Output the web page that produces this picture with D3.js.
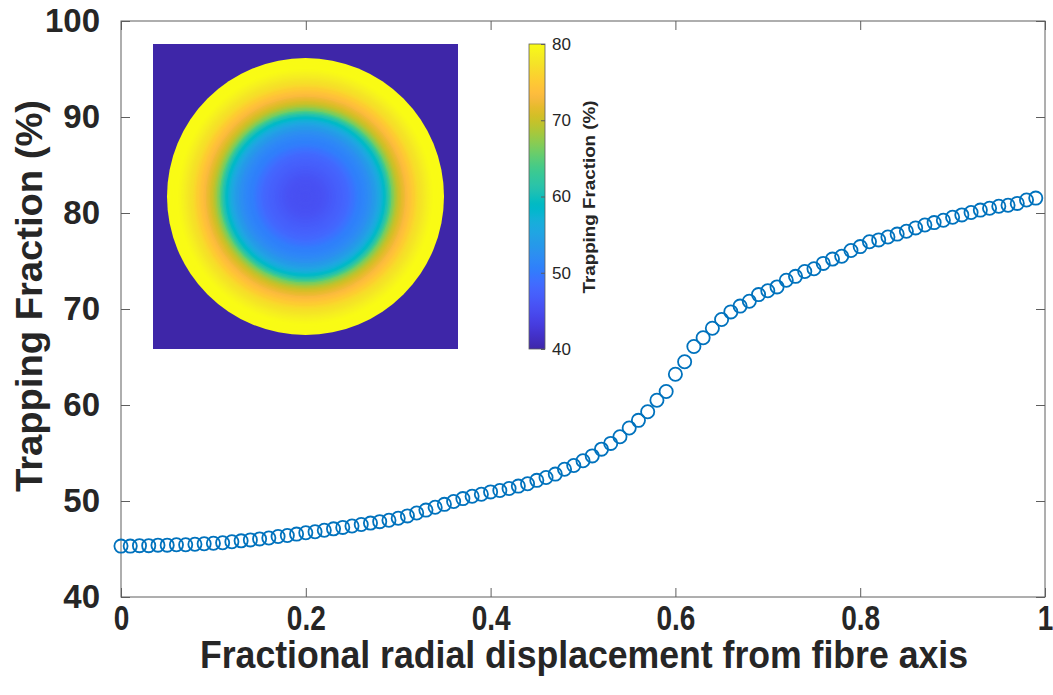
<!DOCTYPE html>
<html>
<head>
<meta charset="utf-8">
<script src="https://cdn.jsdelivr.net/npm/d3@7"></script>
<style>
  html, body { margin: 0; padding: 0; background: #fff; }
  svg { display: block; font-family: "Liberation Sans", Arial, sans-serif; }
</style>
</head>
<body>
<svg id="chart" width="1053" height="695"></svg>
<script>
// Fractional radial displacement of the source from the fibre axis
const displacement = [
  0.00, 0.01, 0.02, 0.03, 0.04, 0.05, 0.06, 0.07, 0.08, 0.09,
  0.10, 0.11, 0.12, 0.13, 0.14, 0.15, 0.16, 0.17, 0.18, 0.19,
  0.20, 0.21, 0.22, 0.23, 0.24, 0.25, 0.26, 0.27, 0.28, 0.29,
  0.30, 0.31, 0.32, 0.33, 0.34, 0.35, 0.36, 0.37, 0.38, 0.39,
  0.40, 0.41, 0.42, 0.43, 0.44, 0.45, 0.46, 0.47, 0.48, 0.49,
  0.50, 0.51, 0.52, 0.53, 0.54, 0.55, 0.56, 0.57, 0.58, 0.59,
  0.60, 0.61, 0.62, 0.63, 0.64, 0.65, 0.66, 0.67, 0.68, 0.69,
  0.70, 0.71, 0.72, 0.73, 0.74, 0.75, 0.76, 0.77, 0.78, 0.79,
  0.80, 0.81, 0.82, 0.83, 0.84, 0.85, 0.86, 0.87, 0.88, 0.89,
  0.90, 0.91, 0.92, 0.93, 0.94, 0.95, 0.96, 0.97, 0.98, 0.99
];

// Trapping fraction (%) at each displacement
const trappingFraction = [
  45.3, 45.3, 45.35, 45.35, 45.4, 45.4, 45.45, 45.45, 45.5, 45.55,
  45.6, 45.65, 45.75, 45.85, 45.95, 46.05, 46.15, 46.3, 46.4, 46.55,
  46.7, 46.8, 46.95, 47.1, 47.25, 47.4, 47.55, 47.7, 47.85, 48.0,
  48.2, 48.45, 48.75, 49.05, 49.35, 49.65, 49.95, 50.25, 50.5, 50.7,
  50.95, 51.1, 51.3, 51.55, 51.8, 52.15, 52.45, 52.8, 53.3, 53.7,
  54.2, 54.7, 55.4, 56.0, 56.7, 57.6, 58.4, 59.3, 60.5, 61.4,
  63.2, 64.5, 66.1, 67.0, 68.0, 68.9, 69.7, 70.3, 70.8, 71.5,
  71.9, 72.3, 73.0, 73.4, 73.9, 74.2, 74.75, 75.2, 75.5, 76.1,
  76.5, 77.0, 77.2, 77.5, 77.8, 78.1, 78.45, 78.75, 79.0, 79.25,
  79.55, 79.8, 80.05, 80.3, 80.5, 80.7, 80.8, 81.0, 81.35, 81.55
];

const xTicks = [0, 0.2, 0.4, 0.6, 0.8, 1];
const xTickLabels = ["0", "0.2", "0.4", "0.6", "0.8", "1"];
const yTicks = [40, 50, 60, 70, 80, 90, 100];
const colorTicks = [40, 50, 60, 70, 80];

const xTitle = "Fractional radial displacement from fibre axis";
const yTitle = "Trapping Fraction (%)";
const colorTitle = "Trapping Fraction (%)";

// parula colour map (64 entries)
const PARULA = [
  [0.2422,0.1504,0.6603],[0.2504,0.1650,0.7076],[0.2578,0.1818,0.7511],[0.2647,0.1978,0.7952],
  [0.2706,0.2147,0.8364],[0.2751,0.2342,0.8710],[0.2783,0.2559,0.8991],[0.2803,0.2782,0.9221],
  [0.2813,0.3006,0.9414],[0.2810,0.3228,0.9579],[0.2795,0.3447,0.9717],[0.2760,0.3667,0.9829],
  [0.2699,0.3892,0.9906],[0.2602,0.4123,0.9952],[0.2440,0.4358,0.9988],[0.2206,0.4603,0.9973],
  [0.1963,0.4847,0.9892],[0.1834,0.5074,0.9798],[0.1786,0.5289,0.9682],[0.1764,0.5499,0.9520],
  [0.1687,0.5703,0.9359],[0.1540,0.5902,0.9218],[0.1460,0.6091,0.9079],[0.1380,0.6276,0.8973],
  [0.1248,0.6459,0.8883],[0.1113,0.6635,0.8763],[0.0952,0.6798,0.8598],[0.0689,0.6948,0.8394],
  [0.0297,0.7082,0.8163],[0.0036,0.7203,0.7917],[0.0067,0.7312,0.7660],[0.0433,0.7411,0.7394],
  [0.0964,0.7500,0.7120],[0.1408,0.7584,0.6842],[0.1717,0.7670,0.6554],[0.1938,0.7758,0.6251],
  [0.2161,0.7843,0.5923],[0.2470,0.7918,0.5567],[0.2906,0.7973,0.5188],[0.3406,0.8008,0.4789],
  [0.3909,0.8029,0.4354],[0.4456,0.8024,0.3909],[0.5044,0.7993,0.3480],[0.5616,0.7942,0.3045],
  [0.6174,0.7876,0.2612],[0.6720,0.7793,0.2227],[0.7242,0.7698,0.1910],[0.7738,0.7598,0.1646],
  [0.8203,0.7498,0.1535],[0.8634,0.7406,0.1596],[0.9035,0.7330,0.1774],[0.9393,0.7288,0.2100],
  [0.9728,0.7298,0.2394],[0.9956,0.7434,0.2371],[0.9970,0.7659,0.2199],[0.9952,0.7893,0.2028],
  [0.9892,0.8136,0.1885],[0.9786,0.8386,0.1766],[0.9676,0.8639,0.1643],[0.9610,0.8890,0.1537],
  [0.9597,0.9135,0.1423],[0.9628,0.9373,0.1265],[0.9691,0.9606,0.1064],[0.9769,0.9839,0.0805]
].map(c => d3.rgb(c[0] * 255, c[1] * 255, c[2] * 255).formatHex());

const parula = d3.piecewise(d3.interpolateRgb, PARULA);

// ---------- layout ----------
const plot = { left: 121, right: 1045, top: 21, bottom: 597 };
const inset = { left: 153, top: 44, size: 305 };
const cbar = { left: 529, width: 16, top: 44, bottom: 349 };

const axisGrey = "#5e5e5e";
const textDark = "#262626";
const markerBlue = "#0072BD";

const svg = d3.select("#chart");

const x = d3.scaleLinear().domain([0, 1]).range([plot.left, plot.right]);
const y = d3.scaleLinear().domain([40, 100]).range([plot.bottom, plot.top]);
const color = d3.scaleSequential(parula).domain([40, 80]).clamp(true);

// ---------- main axes ----------
const tickLen = 9;

const gx = svg.append("g")
  .attr("transform", `translate(0,${plot.bottom})`)
  .call(d3.axisBottom(x).tickValues(xTicks)
    .tickFormat((d, i) => xTickLabels[i])
    .tickSizeInner(-tickLen).tickSizeOuter(0).tickPadding(8));

const gxTop = svg.append("g")
  .attr("transform", `translate(0,${plot.top})`)
  .call(d3.axisTop(x).tickValues(xTicks).tickFormat("")
    .tickSizeInner(-tickLen).tickSizeOuter(0));

const gy = svg.append("g")
  .attr("transform", `translate(${plot.left},0)`)
  .call(d3.axisLeft(y).tickValues(yTicks)
    .tickSizeInner(-tickLen).tickSizeOuter(0).tickPadding(21));

const gyRight = svg.append("g")
  .attr("transform", `translate(${plot.right},0)`)
  .call(d3.axisRight(y).tickValues(yTicks).tickFormat("")
    .tickSizeInner(-tickLen).tickSizeOuter(0));

[gx, gxTop, gy, gyRight].forEach(g => {
  g.select(".domain").remove();
  g.selectAll(".tick line").attr("stroke", axisGrey).attr("stroke-width", 1);
});

// the horizontal tick labels use a narrow, tall face
gx.selectAll(".tick text")
  .attr("fill", textDark)
  .attr("transform", "scale(0.8,1)")
  .style("font-size", "35px")
  .style("font-weight", "bold");

gy.selectAll(".tick text")
  .attr("fill", textDark)
  .style("font-size", "33px")
  .style("font-weight", "bold");

svg.append("rect")
  .attr("x", plot.left).attr("y", plot.top)
  .attr("width", plot.right - plot.left).attr("height", plot.bottom - plot.top)
  .attr("fill", "none").attr("stroke", axisGrey).attr("stroke-width", 1);

// ---------- data markers ----------
svg.append("g")
  .selectAll("circle")
  .data(displacement)
  .join("circle")
  .attr("cx", d => x(d))
  .attr("cy", (d, i) => y(trappingFraction[i]))
  .attr("r", 6.6)
  .attr("fill", "none")
  .attr("stroke", markerBlue)
  .attr("stroke-width", 1.8);

// ---------- axis titles ----------
svg.append("text")
  .attr("x", 584)
  .attr("y", 668)
  .attr("text-anchor", "middle")
  .attr("textLength", 768)
  .attr("lengthAdjust", "spacingAndGlyphs")
  .attr("fill", textDark)
  .style("font-size", "38px")
  .style("font-weight", "bold")
  .text(xTitle);

svg.append("text")
  .attr("transform", `translate(42,296) rotate(-90)`)
  .attr("text-anchor", "middle")
  .attr("textLength", 392)
  .attr("lengthAdjust", "spacingAndGlyphs")
  .attr("fill", textDark)
  .style("font-size", "37px")
  .style("font-weight", "bold")
  .text(yTitle);

// ---------- inset: trapping fraction across the fibre cross-section ----------
const R = 138.5;
const cx0 = inset.left + inset.size / 2;
const cy0 = inset.top + inset.size / 2;
const r = d3.scaleLinear().domain([0, 1]).range([0, R]);

const gInset = svg.append("g");
gInset.append("rect")
  .attr("x", inset.left).attr("y", inset.top)
  .attr("width", inset.size).attr("height", inset.size)
  .attr("fill", PARULA[0]);

// one ring per sampled displacement, drawn from the outside in
const rings = displacement.map((d, i) => ({ d, v: trappingFraction[i] })).reverse();
gInset.selectAll("circle")
  .data(rings)
  .join("circle")
  .attr("cx", cx0).attr("cy", cy0)
  .attr("r", p => r(p.d + 0.01))
  .attr("fill", p => color(p.v));

// ---------- colour bar ----------
const cb = d3.scaleLinear().domain([40, 80]).range([cbar.bottom, cbar.top]);
const grad = svg.append("defs").append("linearGradient")
  .attr("id", "parulaGrad")
  .attr("x1", 0).attr("y1", 1).attr("x2", 0).attr("y2", 0);
grad.selectAll("stop")
  .data(PARULA)
  .join("stop")
  .attr("offset", (c, i) => i / (PARULA.length - 1))
  .attr("stop-color", c => c);

svg.append("rect")
  .attr("x", cbar.left).attr("y", cbar.top)
  .attr("width", cbar.width).attr("height", cbar.bottom - cbar.top)
  .attr("fill", "url(#parulaGrad)")
  .attr("stroke", axisGrey).attr("stroke-width", 0.8);

const gcb = svg.append("g")
  .attr("transform", `translate(${cbar.left + cbar.width},0)`)
  .call(d3.axisRight(cb).tickValues(colorTicks)
    .tickSizeInner(-4).tickSizeOuter(0).tickPadding(7));
gcb.select(".domain").remove();
gcb.selectAll(".tick line").attr("stroke", axisGrey);
gcb.selectAll(".tick text")
  .attr("fill", textDark)
  .style("font-size", "17px");

svg.append("text")
  .attr("transform", `translate(595,197) rotate(-90)`)
  .attr("text-anchor", "middle")
  .attr("textLength", 193)
  .attr("lengthAdjust", "spacingAndGlyphs")
  .attr("fill", textDark)
  .style("font-size", "17px")
  .style("font-weight", "bold")
  .text(colorTitle);
</script>
</body>
</html>
